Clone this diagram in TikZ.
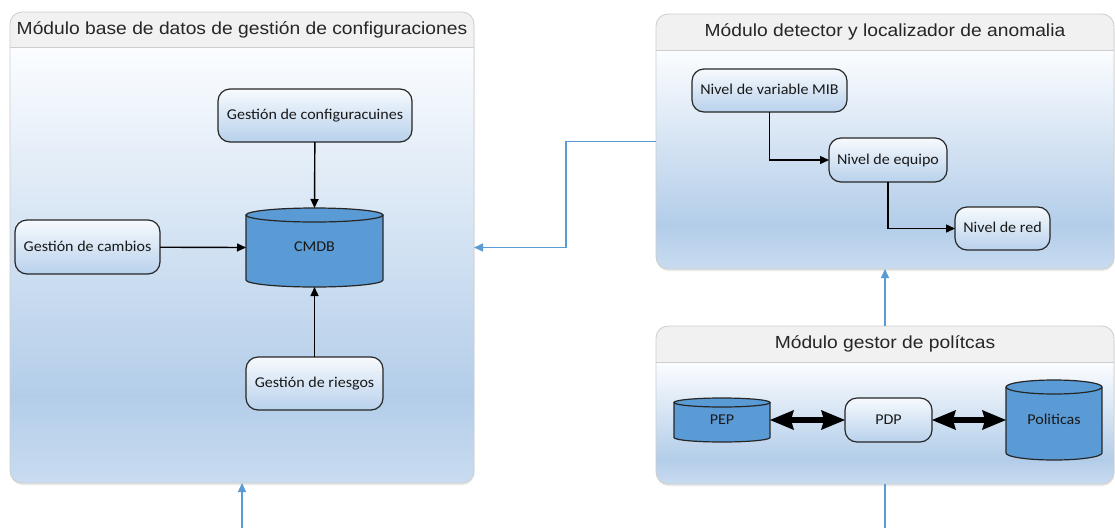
\documentclass[tikz,border=0pt]{standalone}
\usepackage{fontspec}
\setmainfont{Liberation Sans}
\newfontfamily\titlefont[FakeStretch=1.1]{Liberation Sans}
\newfontfamily\boxfont[FakeStretch=1.07]{Carlito}
\usetikzlibrary{arrows.meta,shadows,calc}

\definecolor{panelblue}{HTML}{B3CDE9}
\definecolor{panelbot}{HTML}{C9DCF0}
\definecolor{paneltop}{HTML}{FBFDFF}
\definecolor{hdrgray}{HTML}{F1F1F1}
\definecolor{rimgray}{HTML}{CDCDCD}
\definecolor{dbblue}{HTML}{5B9BD5}
\definecolor{linkblue}{HTML}{5B9BD5}
\definecolor{boxtop}{HTML}{F7FAFD}
\definecolor{boxbot}{HTML}{B8D1EC}
\definecolor{edgedark}{HTML}{262626}

\pgfdeclareverticalshading{panelshade}{100bp}{color(0bp)=(panelbot); color(25bp)=(panelbot); color(35bp)=(panelblue); color(75bp)=(paneltop); color(100bp)=(paneltop)}

% module frame: grey header band over a blue-graded body
\newcommand\modpanel[6]{% #1 name, #2 centre x, #3 centre y, #4 width, #5 height, #6 header height
  \node[panelbox, minimum width=#4pt, minimum height=#5pt] (#1) at (#2,#3) {};
  \begin{scope}
    \clip[rounded corners=12pt] (#1.north west) rectangle (#1.south east);
    \fill[hdrgray] (#1.north west) rectangle ($(#1.north east)+(0,#6)$);
    \shade[shading=panelshade] ($(#1.north west)+(0,#6)$) rectangle (#1.south east);
    \draw[rimgray, line width=0.8pt] ($(#1.north west)+(0,#6)$) -- ($(#1.north east)+(0,#6)$);
  \end{scope}
  \draw[rimgray, line width=0.8pt, rounded corners=12pt] (#1.north west) rectangle (#1.south east);
}

% database drum with a named label node covering it
\newcommand\dbdrum[7]{% #1 name, #2 x, #3 y, #4 width, #5 height, #6 end radius, #7 label
  \pgfmathsetmacro\dbl{#2-#4/2}
  \pgfmathsetmacro\dbr{#2+#4/2}
  \pgfmathsetmacro\dbt{#3-#5/2+#6}
  \pgfmathsetmacro\dbb{#3+#5/2-#6}
  \fill[dbblue] (\dbl,\dbt) rectangle (\dbr,\dbb);
  \fill[dbblue] (#2,\dbb) ellipse [x radius=#4/2, y radius=#6];
  \draw[dbedge] (\dbl,\dbt) -- (\dbl,\dbb) arc[start angle=180, end angle=0, x radius=#4/2, y radius=#6] -- (\dbr,\dbt);
  \draw[dbedge, fill=dbblue] (#2,\dbt) ellipse [x radius=#4/2, y radius=#6];
  \node[dblabel, minimum width=#4pt, minimum height=#5pt] (#1) at (#2,#3) {#7};
}

\begin{document}
\begin{tikzpicture}[x=1pt, y=-1pt,
  panelbox/.style={rectangle, rounded corners=12pt, fill=white, inner sep=0pt, outer sep=0pt,
    drop shadow={opacity=0.18, shadow xshift=0.5pt, shadow yshift=-2pt}},
  paneltitle/.style={font=\titlefont\fontsize{17.5}{20}\selectfont, text=black!85,
    text height=13pt, text depth=4pt, inner sep=0pt},
  stepbox/.style={rectangle, draw=edgedark, line width=1.2pt, rounded corners=12pt,
    top color=boxtop, bottom color=boxbot, inner sep=0pt, outer sep=0pt,
    font=\boxfont\fontsize{15}{18}\selectfont, text=black!90,
    text height=11pt, text depth=3pt},
  dbedge/.style={draw=edgedark, line width=1.2pt},
  dblabel/.style={rectangle, inner sep=0pt, outer sep=0pt,
    font=\boxfont\fontsize{15}{18}\selectfont, text=black!90,
    text height=11pt, text depth=3pt},
  flow/.style={draw=black, line width=1.4pt, -{Triangle[length=9pt, width=8pt]}},
  link/.style={draw=linkblue, line width=1.3pt},
  linkarrow/.style={link, -{Triangle[length=9pt, width=8pt]}},
  fat/.style={draw=black, line width=6pt,
    {Stealth[length=24pt, width=20pt, inset=3pt, line width=0pt]}-{Stealth[length=24pt, width=20pt, inset=3pt, line width=0pt]}}
]
\useasboundingbox (0,0) rectangle (1115,528);
\fill[white] (0,0) rectangle (1115,528);

% module frames
\modpanel{bd}{242}{247.5}{464}{471}{35}
\modpanel{det}{885}{141.5}{458}{255}{36}
\modpanel{pg}{885}{405}{458}{158}{36}

\node[paneltitle] (bdtitle) at (242,30) {Módulo base de datos de gestión de configuraciones};
\node[paneltitle] (dettitle) at (885,32) {Módulo detector y localizador de anomalia};
\node[paneltitle] (pgtitle) at (885,344) {Módulo gestor de polítcas};

% configuration management database module
\node[stepbox, minimum width=194pt, minimum height=53pt] (conf) at (315,115.5) {Gestión de configuracuines};
\node[stepbox, minimum width=145pt, minimum height=54pt] (camb) at (87.5,247) {Gestión de cambios};
\node[stepbox, minimum width=137pt, minimum height=53pt] (ries) at (314.5,383.5) {Gestión de riesgos};
\dbdrum{cmdb}{314.5}{247.5}{137}{79}{7}{CMDB}

\draw[flow] (conf) -- (cmdb.north);
\draw[flow] (camb) -- (cmdb.west);
\draw[flow] (ries) -- (cmdb.south);

% anomaly detection module
\node[stepbox, minimum width=155pt, minimum height=43pt] (mib) at (769.5,90.5) {Nivel de variable MIB};
\node[stepbox, minimum width=118pt, minimum height=44pt] (equ) at (888,160) {Nivel de equipo};
\node[stepbox, minimum width=95pt, minimum height=43pt] (red) at (1002.5,228.5) {Nivel de red};

\draw[flow] (mib.south) |- (equ.west);
\draw[flow] (equ.south) |- (red.west);

% policy module
\dbdrum{pep}{722}{420}{96}{44}{4.5}{PEP}
\node[stepbox, minimum width=87pt, minimum height=44pt] (pdp) at (888.5,420) {PDP};
\dbdrum{pol}{1054}{420}{96}{80}{7}{Politicas}

\draw[fat] (pep.east) -- (pdp.west);
\draw[fat] (pdp.east) -- (pol.west);

% links between modules
\coordinate (inbd) at (242,528);
\coordinate (outpg) at (885,528);
\draw[linkarrow] (det.west) -- ++(-90,0) |- (bd.east);
\draw[linkarrow] (pg.north) -- (det.south);
\draw[linkarrow] (inbd) -- (bd.south);
\draw[link] (pg.south) -- (outpg);
\end{tikzpicture}
\end{document}
